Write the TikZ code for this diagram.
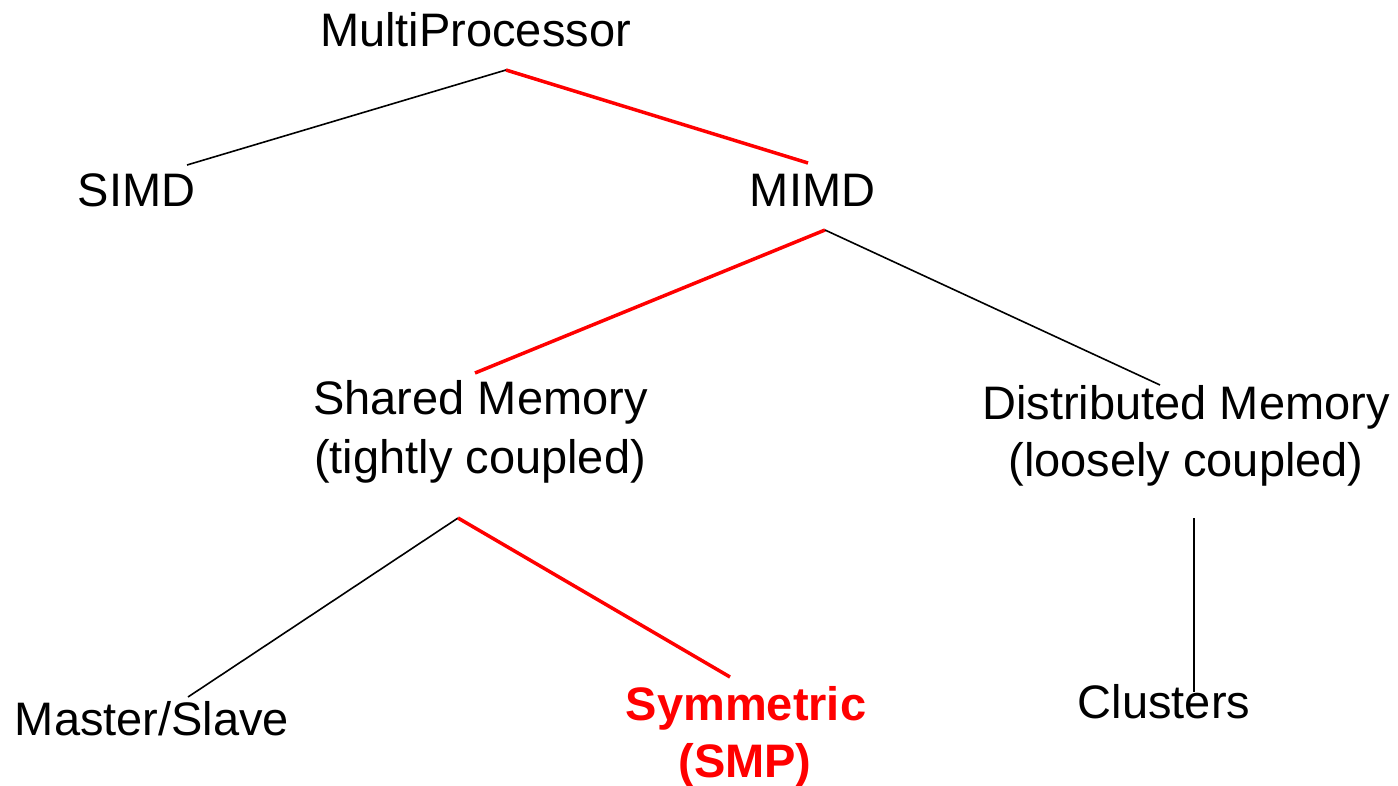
\documentclass[tikz,border=0pt]{standalone}
\usepackage{fontspec}
\setmainfont{Liberation Sans}
\begin{document}
\begin{tikzpicture}[x=1pt,y=-1pt,
  lbl/.style={anchor=base, inner sep=0pt, font=\fontsize{47}{56}\selectfont},
  hl/.style={anchor=base, inner sep=0pt, text=red, font=\fontsize{47}{56}\selectfont\bfseries},
  plainline/.style={draw=black, line width=1.6pt},
  redline/.style={draw=red, line width=3.5pt}]
\useasboundingbox (0,0) rectangle (1398,786);
% labels
\node[lbl] (mp) at (475.5,47) {MultiProcessor};
\node[lbl] (simd) at (136.5,207) {SIMD};
\node[lbl] (mimd) at (812.5,207) {MIMD};
\node[lbl] (shm) at (480.5,414) {Shared Memory};
\node[lbl] (shm2) at (480,473) {(tightly coupled)};
\node[lbl] (dm) at (1186,419) {Distributed Memory};
\node[lbl] (dm2) at (1186,476) {(loosely coupled)};
\node[lbl] (ms) at (152,735) {Master/Slave};
\node[hl] (smp) at (746,720) {Symmetric};
\node[hl] (smp2) at (745,777) {(SMP)};
\node[lbl] (cl) at (1164,718) {Clusters};
% connector end points
\coordinate (mpB) at (506,70);
\coordinate (simdT) at (187,165);
\coordinate (mimdT) at (808,163);
\coordinate (mimdB) at (825,230);
\coordinate (shmT) at (475,373);
\coordinate (dmT) at (1160,385);
\coordinate (shmB) at (458,518);
\coordinate (msT) at (188,697);
\coordinate (smpT) at (730,677);
\coordinate (dmB) at (1194,518);
\coordinate (clT) at (1194,692);
% connectors
\draw[plainline] (mpB) -- (simdT);
\draw[redline] (mpB) -- (mimdT);
\draw[redline] (mimdB) -- (shmT);
\draw[plainline] (mimdB) -- (dmT);
\draw[plainline] (shmB) -- (msT);
\draw[redline] (shmB) -- (smpT);
\draw[plainline] (dmB) -- (clT);
\end{tikzpicture}
\end{document}
